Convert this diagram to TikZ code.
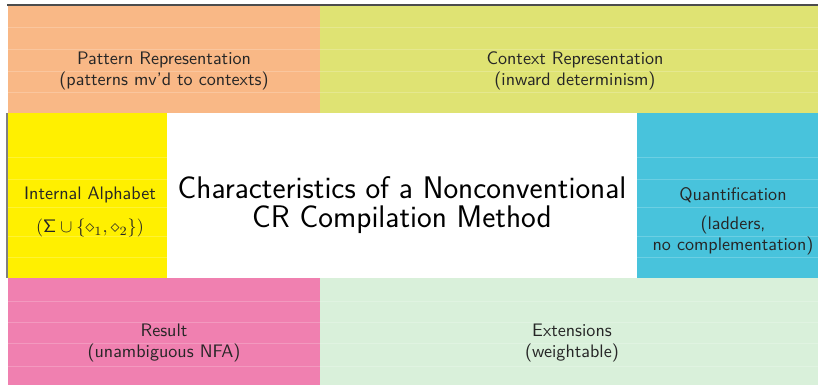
\documentclass[tikz,border=0pt]{standalone}
\usepackage{amsmath}
\usepackage{amssymb}
\usepackage{xcolor}
\usepackage{tikz}

\definecolor{patcol}{RGB}{249,184,134}
\definecolor{ctxcol}{RGB}{223,227,115}
\definecolor{alphcol}{RGB}{255,240,0}
\definecolor{quantcol}{RGB}{72,195,220}
\definecolor{rescol}{RGB}{240,128,176}
\definecolor{extcol}{RGB}{217,240,218}

\begin{document}
\begin{tikzpicture}[x=0.553pt, y=-0.553pt,
    every node/.style={font=\sffamily\fontsize{10}{11.4}\selectfont, align=center, text=black!85}]
\useasboundingbox (0,0) rectangle (818,385);

% Cells
\fill[patcol] (8,6) rectangle (320,113);
\fill[ctxcol] (320,6) rectangle (818,113);
\fill[alphcol] (8,113) rectangle (167,278);
\fill[quantcol] (637,113) rectangle (818,278);
\fill[rescol] (8,278) rectangle (320,385);
\fill[extcol] (320,278) rectangle (818,385);

% Faint row lines
\foreach \y in {27,49,71,92} {
    \draw[white, opacity=0.2, line width=0.4pt] (8,\y) -- (818,\y);
}
\foreach \y in {157,179,207,236,257} {
    \draw[white, opacity=0.2, line width=0.4pt] (8,\y) -- (167,\y);
    \draw[white, opacity=0.2, line width=0.4pt] (637,\y) -- (818,\y);
}
\foreach \y in {301,322,343,366} {
    \draw[white, opacity=0.2, line width=0.4pt] (8,\y) -- (818,\y);
}

% Rules
\draw[black!70, line width=0.8pt] (7,5) -- (818,5);
\draw[black!50, line width=0.8pt] (7,113) -- (7,278);

% Texts
\node (pattern) at (164,71) {Pattern Representation\\(patterns mv'd to contexts)};
\node (context) at (575,71) {Context Representation\\(inward determinism)};
\node (alphabet) at (90,212) {Internal Alphabet\\[1.5ex]$(\mathsf{\Sigma}\cup\{\diamond_1,\diamond_2\})$};
\node[font=\sffamily\fontsize{17.28}{15.6}\selectfont, text=black] (title) at (402,205) {Characteristics of a Nonconventional\\CR Compilation Method};
\node (quant) at (733,221) {Quantification\\[1.1ex](ladders,\\no complementation)};
\node (result) at (164,343) {Result\\(unambiguous NFA)};
\node (ext) at (572,343) {Extensions\\(weightable)};

\end{tikzpicture}
\end{document}
